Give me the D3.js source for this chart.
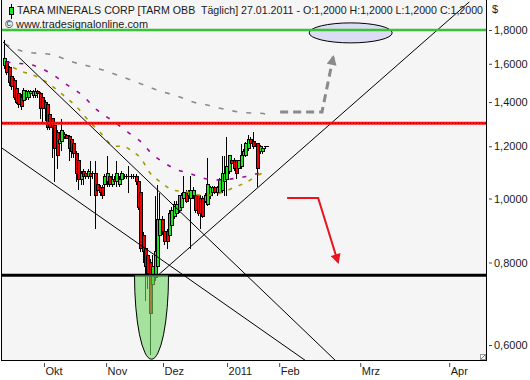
<!DOCTYPE html>
<meta charset="utf-8">
<script src="https://d3js.org/d3.v7.min.js"></script>
<style>
  body { margin: 0; background: #fff; }
  text { font-family: "Liberation Sans", Arial, sans-serif; font-size: 11px; fill: #1a1a1a; }
  .axis path { display: none; }
  .axis line { stroke: #444; }
  .head { font-size: 10.4px; }
</style>
<body>
<script>

// daily OHLC, TARM OBB, Sep 2010 - 27.01.2011
var opens  = [1.59,1.61,1.58,1.53,1.51,1.47,1.44,1.42,1.41,1.42,1.42,1.44,1.43,1.43,1.45,1.44,1.42,1.40,1.39,1.34,
              1.32,1.29,1.26,1.21,1.22,1.24,1.245,1.24,1.23,1.21,1.17,1.14,1.07,1.10,1.09,1.08,1.09,1.09,1.09,1.05,
              1.04,1.04,1.05,1.06,1.08,1.05,1.07,1.06,1.05,1.07,1.08,1.08,1.08,1.08,1.08,1.08,1.06,1.02,0.88,0.84,
              0.82,0.80,0.74,0.76,0.79,0.88,0.93,0.89,0.89,0.88,0.91,0.94,0.95,0.96,0.97,1.00,1.02,1.01,1.00,1.01,
              1.01,1.01,1.00,1.00,0.99,0.98,1.01,1.02,1.04,1.02,1.02,1.03,1.06,1.07,1.10,1.14,1.14,1.14,1.11,1.12,
              1.16,1.16,1.19,1.23,1.22,1.21,1.21,1.18,1.18,1.20,1.20];
var highs  = [1.74,1.63,1.59,1.54,1.52,1.48,1.45,1.44,1.47,1.46,1.46,1.46,1.46,1.47,1.46,1.45,1.43,1.41,1.40,1.35,
              1.32,1.32,1.27,1.24,1.32,1.26,1.25,1.25,1.24,1.22,1.18,1.15,1.10,1.11,1.10,1.11,1.14,1.10,1.14,1.06,
              1.05,1.05,1.09,1.16,1.09,1.09,1.08,1.14,1.08,1.10,1.09,1.09,1.12,1.09,1.09,1.09,1.07,1.03,0.89,0.85,
              0.83,0.81,0.82,1.01,1.05,1.02,0.94,0.90,0.90,0.96,0.97,0.99,0.99,1.01,1.02,1.08,1.03,1.03,1.08,1.04,
              1.02,1.01,1.01,1.01,1.02,1.15,1.045,1.045,1.045,1.045,1.075,1.16,1.16,1.24,1.165,1.15,1.15,1.145,1.145,1.21,
              1.19,1.22,1.25,1.24,1.26,1.22,1.21,1.205,1.20,1.20,1.20];
var lows   = [1.57,1.54,1.48,1.46,1.41,1.39,1.37,1.36,1.40,1.41,1.41,1.42,1.42,1.42,1.42,1.32,1.30,1.31,1.27,1.27,
              1.15,1.06,1.11,1.20,1.18,1.23,1.23,1.14,1.15,1.15,1.06,1.03,1.05,1.05,1.07,1.07,1.01,1.07,0.90,1.02,
              1.01,1.00,1.04,1.04,1.04,1.04,1.05,1.04,1.04,1.06,1.07,1.07,1.02,1.07,1.07,1.05,0.96,0.83,0.80,0.70,
              0.73,0.58,0.73,0.75,0.78,0.80,0.88,0.85,0.84,0.87,0.90,0.93,0.94,0.95,0.96,0.99,0.985,1.00,0.84,1.00,
              0.95,0.94,0.90,0.935,0.985,0.975,1.00,1.01,1.015,1.01,1.015,1.02,1.01,1.01,1.09,1.12,1.10,1.07,1.10,1.11,
              1.15,1.155,1.18,1.20,1.19,1.20,1.04,1.17,1.17,1.19,1.20];
var closes = [1.63,1.55,1.50,1.48,1.42,1.40,1.39,1.38,1.46,1.45,1.45,1.45,1.45,1.45,1.44,1.37,1.37,1.37,1.28,1.28,
              1.28,1.19,1.16,1.23,1.27,1.25,1.235,1.19,1.18,1.17,1.09,1.07,1.09,1.08,1.08,1.10,1.08,1.09,1.01,1.03,
              1.02,1.01,1.08,1.09,1.05,1.07,1.06,1.09,1.07,1.09,1.08,1.08,1.08,1.08,1.08,1.06,0.97,0.84,0.83,0.79,
              0.77,0.67,0.79,0.83,0.93,0.93,0.89,0.86,0.86,0.95,0.96,0.98,0.98,1.01,1.01,1.02,0.99,1.02,1.03,1.03,
              0.96,0.95,0.95,0.94,1.01,1.05,1.04,1.04,1.02,1.04,1.07,1.09,1.09,1.12,1.16,1.13,1.11,1.09,1.14,1.16,
              1.18,1.21,1.23,1.21,1.20,1.21,1.11,1.20,1.19,1.20,1.20];

// x axis: bar index of each month start, future months included
var tickIdx    = [16.7, 42.7, 66.5, 93.3, 115.1, 149, 186.2];
var tickLabels = ["Okt", "Nov", "Dez", "2011", "Feb", "Mrz", "Apr"];
var priceTicks = [0.6, 0.8, 1.0, 1.2, 1.4, 1.6, 1.8];

// moving averages (bar index, value)
var maSlowIdx = [0.4, 8, 20.5, 27.6, 40.2, 55.6, 64, 73.6, 79.1, 84.9, 90.4, 100, 108.4, 110];
var maSlow    = [1.715, 1.67, 1.65, 1.615, 1.57, 1.50, 1.46, 1.425, 1.40, 1.386, 1.37, 1.35, 1.345, 1.34];
var maMidIdx  = [1, 3.8, 11.7, 19.2, 26.4, 32.6, 38.9, 45.6, 51.9, 58.2, 61.1, 66.5, 72.4, 76.6, 83.3, 90.4, 97.5, 103.8, 110];
var maMid     = [1.61, 1.605, 1.593, 1.55, 1.486, 1.435, 1.362, 1.31, 1.26, 1.21, 1.176, 1.136, 1.105, 1.095, 1.074, 1.067, 1.074, 1.085, 1.105];
var maFastIdx = [3.8, 8, 12.1, 18.4, 24.7, 30.5, 36, 40.2, 46.4, 49.8, 54, 56.9, 61.1, 65.3, 70.7, 76.6, 82, 87.4, 91.6, 96.7, 101.7, 106.3, 110];
var maFast    = [1.58, 1.555, 1.539, 1.496, 1.435, 1.375, 1.305, 1.26, 1.20, 1.20, 1.176, 1.155, 1.093, 1.06, 1.03, 1.023, 1.012, 1.012, 1.023, 1.041, 1.06, 1.085, 1.10];

// drawn levels and trend lines
var target = 1.80, resistance = 1.30, support = 0.765;
var trendDown  = [[-0.4, 1.726], [138.5, 0.569]];
var trendLower = [[-0.8, 1.192], [125.9, 0.569]];
var trendUp    = [[64, 0.763], [194.6, 1.985]];
var cupCenter = 61.7, cupBottom = 0.571;
var goalCenter = [145, 1.782];
var arrowDown = [[118.4, 1.002], [131.4, 1.002], [139.7, 0.801]];
var arrowUp   = [[115.5, 1.352], [133, 1.352], [137.7, 1.639]];

var width = 530, height = 380;
var plot = {left: 2, top: 0, right: 486, bottom: 360};

var svg = d3.select("body").append("svg")
    .attr("width", width)
    .attr("height", height);

var x = d3.scaleLinear().domain([0, closes.length - 1]).range([4, 267]);
var y = d3.scaleLog().domain([0.6, 1.8]).range([345, 30]);

var defs = svg.append("defs");
defs.append("clipPath").attr("id", "clip")
  .append("rect")
    .attr("x", plot.left).attr("y", plot.top)
    .attr("width", plot.right - plot.left).attr("height", plot.bottom - plot.top);

function marker(id, color, w, h) {
  defs.append("marker")
      .attr("id", id)
      .attr("viewBox", "0 0 10 10")
      .attr("refX", 8).attr("refY", 5)
      .attr("markerUnits", "userSpaceOnUse")
      .attr("markerWidth", w).attr("markerHeight", h)
      .attr("orient", "auto")
    .append("path")
      .attr("d", "M0,0L10,5L0,10z")
      .attr("fill", color);
}
marker("headRed", "#e8141e", 11, 10);
marker("headGray", "#8a8a8a", 12, 10);

svg.append("rect")
    .attr("x", plot.left).attr("y", plot.top)
    .attr("width", plot.right - plot.left).attr("height", plot.bottom - plot.top)
    .attr("fill", "#f5f5f5");

var g = svg.append("g").attr("clip-path", "url(#clip)");

// candles
var bars = d3.range(closes.length).map(function(i) {
  return {i: i, o: opens[i], h: highs[i], l: lows[i], c: closes[i]};
});

var candle = g.append("g").selectAll("g")
    .data(bars)
  .enter().append("g")
    .attr("shape-rendering", "crispEdges");

candle.append("line")
    .attr("x1", function(d) { return Math.round(x(d.i)) + 0.5; })
    .attr("x2", function(d) { return Math.round(x(d.i)) + 0.5; })
    .attr("y1", function(d) { return y(d.h); })
    .attr("y2", function(d) { return y(d.l); })
    .attr("stroke", "#000");

candle.filter(function(d) { return d.o != d.c; }).append("rect")
    .attr("x", function(d) { return Math.round(x(d.i)) - 1; })
    .attr("width", 3)
    .attr("y", function(d) { return y(Math.max(d.o, d.c)); })
    .attr("height", function(d) { return Math.abs(y(d.o) - y(d.c)); })
    .attr("fill", function(d) { return d.c > d.o ? "#1ee61e" : "#f00000"; })
    .attr("stroke", "#000");

candle.filter(function(d) { return d.o == d.c; }).append("line")
    .attr("x1", function(d) { return Math.round(x(d.i)) - 1; })
    .attr("x2", function(d) { return Math.round(x(d.i)) + 2; })
    .attr("y1", function(d) { return y(d.o); })
    .attr("y2", function(d) { return y(d.o); })
    .attr("stroke", "#000");

// moving averages
var maLine = d3.line()
    .x(function(d) { return x(d[0]); })
    .y(function(d) { return y(d[1]); })
    .curve(d3.curveMonotoneX);

g.append("path").datum(d3.zip(maSlowIdx, maSlow))
    .attr("d", maLine).attr("fill", "none")
    .attr("stroke", "#8c8c8c").attr("stroke-width", 1.6).attr("stroke-dasharray", "5,9");
g.append("path").datum(d3.zip(maMidIdx, maMid))
    .attr("d", maLine).attr("fill", "none")
    .attr("stroke", "#9a0a9a").attr("stroke-width", 1.6).attr("stroke-dasharray", "4,9");
g.append("path").datum(d3.zip(maFastIdx, maFast))
    .attr("d", maLine).attr("fill", "none")
    .attr("stroke", "#a09a00").attr("stroke-width", 1.6).attr("stroke-dasharray", "4,7");

// trend lines
var straight = d3.line()
    .x(function(d) { return x(d[0]); })
    .y(function(d) { return y(d[1]); });

[trendDown, trendLower, trendUp].forEach(function(t) {
  g.append("path").datum(t)
      .attr("d", straight).attr("fill", "none")
      .attr("stroke", "#000").attr("stroke-width", 1);
});

// levels
g.append("line")
    .attr("x1", plot.left).attr("x2", plot.right)
    .attr("y1", y(resistance)).attr("y2", y(resistance))
    .attr("stroke", "#ff1010").attr("stroke-width", 3);
g.append("line")
    .attr("x1", plot.left).attr("x2", plot.right)
    .attr("y1", y(resistance)).attr("y2", y(resistance))
    .attr("stroke", "#600000").attr("stroke-width", 1).attr("stroke-dasharray", "1,2");
g.append("line")
    .attr("x1", plot.left).attr("x2", plot.right)
    .attr("y1", y(support)).attr("y2", y(support))
    .attr("stroke", "#000").attr("stroke-width", 3);

// cup under the low
var cx = x(cupCenter), cTop = y(support), cBot = y(cupBottom);
g.append("path")
    .attr("d", "M" + (cx - 17) + "," + cTop + "A17," + (cBot - cTop) + " 0 0 0 " + (cx + 17) + "," + cTop)
    .attr("fill", "rgb(110,214,100)").attr("fill-opacity", 0.6)
    .attr("stroke", "#000").attr("stroke-width", 1);

// target ellipse and level
g.append("ellipse")
    .attr("cx", x(goalCenter[0])).attr("cy", y(goalCenter[1]))
    .attr("rx", 41.5).attr("ry", 10)
    .attr("fill", "#dcdcf4").attr("stroke", "#000");
g.append("line")
    .attr("x1", plot.left).attr("x2", plot.right)
    .attr("y1", y(target)).attr("y2", y(target))
    .attr("stroke", "#36c436").attr("stroke-width", 2.5);

// arrows
g.append("path").datum(arrowDown)
    .attr("d", straight).attr("fill", "none")
    .attr("stroke", "#e8141e").attr("stroke-width", 2)
    .attr("marker-end", "url(#headRed)");
g.append("path").datum(arrowUp)
    .attr("d", straight).attr("fill", "none")
    .attr("stroke", "#8a8a8a").attr("stroke-width", 3).attr("stroke-dasharray", "8,5")
    .attr("marker-end", "url(#headGray)");

// frame
svg.append("rect")
    .attr("x", 1.5).attr("y", -1.5)
    .attr("width", 485).attr("height", 362)
    .attr("fill", "none").attr("stroke", "#000");

// resize grip
svg.append("rect").attr("x", 480.5).attr("y", 354.5).attr("width", 5).attr("height", 5)
    .attr("fill", "#fff").attr("stroke", "#999");
svg.append("line").attr("x1", 481).attr("y1", 359).attr("x2", 485).attr("y2", 355)
    .attr("stroke", "#777");

// axes
var yAxis = d3.axisRight(y)
    .tickValues(priceTicks)
    .tickSize(3)
    .tickPadding(2)
    .tickFormat(function(d) { return d3.format(".4f")(d).replace(".", ","); });

svg.append("g")
    .attr("class", "axis")
    .attr("transform", "translate(489,0)")
    .call(yAxis)
  .selectAll("text")
    .attr("font-family", null).attr("font-size", null).attr("fill", null);

var xAxis = d3.axisBottom(x)
    .tickValues(tickIdx)
    .tickSize(4)
    .tickFormat(function(d, i) { return tickLabels[i]; });

var xa = svg.append("g")
    .attr("class", "axis")
    .attr("transform", "translate(0,363)")
    .call(xAxis);
xa.selectAll("text")
    .attr("font-family", null).attr("font-size", null).attr("fill", null)
    .attr("text-anchor", "start")
    .attr("x", 1).attr("y", 4);

svg.append("text").attr("x", 492).attr("y", 13).text("$");

// header
svg.append("line").attr("x1", 11.5).attr("x2", 11.5).attr("y1", 4).attr("y2", 19).attr("stroke", "#000");
svg.append("rect").attr("x", 9.5).attr("y", 7.5).attr("width", 4).attr("height", 7)
    .attr("fill", "#1ee61e").attr("stroke", "#000");

svg.append("text")
    .attr("class", "head")
    .attr("x", 17).attr("y", 14)
    .attr("textLength", 466).attr("lengthAdjust", "spacingAndGlyphs")
    .style("white-space", "pre")
    .text("TARA MINERALS CORP [TARM OBB  T\u00e4glich] 27.01.2011 - O:1,2000 H:1,2000 L:1,2000 C:1,2000");

svg.append("text")
    .attr("class", "head")
    .attr("x", 5).attr("y", 28)
    .attr("textLength", 143).attr("lengthAdjust", "spacingAndGlyphs")
    .attr("fill", "#333")
    .text("\u00a9 www.tradesignalonline.com");

</script>
</body>
